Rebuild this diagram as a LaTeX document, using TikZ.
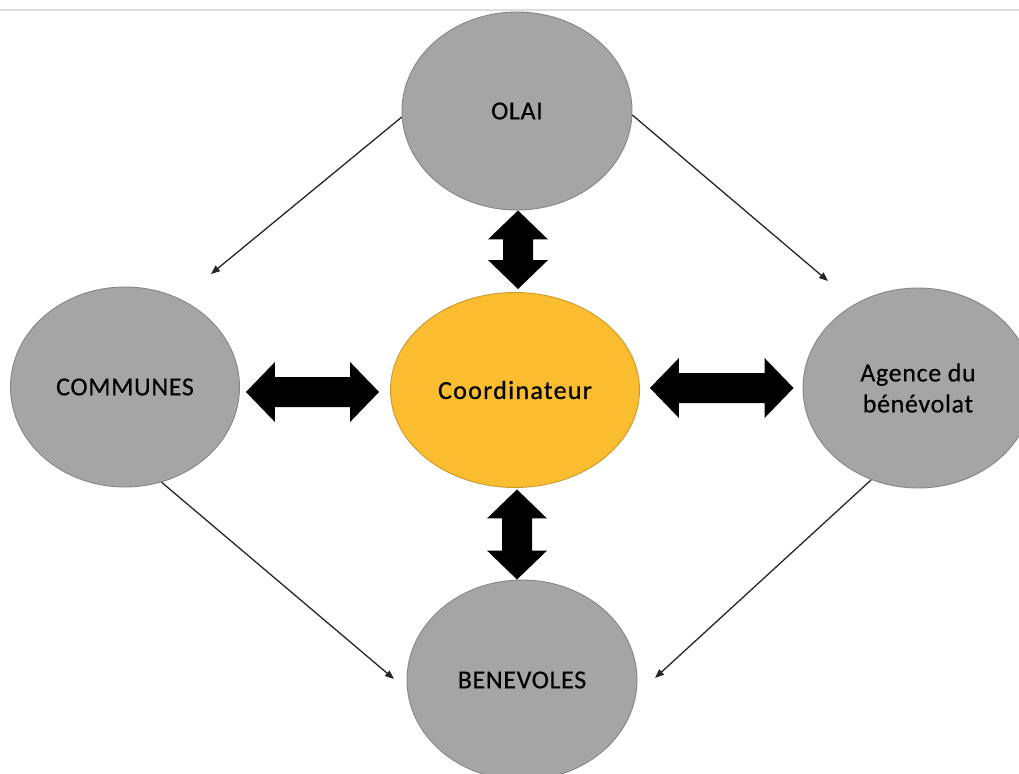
\documentclass[tikz,border=0pt]{standalone}
\usepackage{fontspec}
\setmainfont{Carlito}
\newfontfamily\grayfont[LetterSpace=2.5,FakeBold=0.3]{Carlito}
\newfontfamily\coordfont[LetterSpace=5,FakeBold=0.7]{Carlito}
\usetikzlibrary{calc,arrows.meta,shapes.geometric}
\definecolor{nodegray}{HTML}{A5A5A5}
\definecolor{nodeedge}{HTML}{858585}
\definecolor{coordfill}{HTML}{FBBD30}
\definecolor{coordedge}{HTML}{C9992E}
\definecolor{topline}{HTML}{DDDDDD}
\tikzset{
  bubble/.style={ellipse, draw=nodeedge, fill=nodegray, line width=0.9pt, inner sep=0pt,
    align=center, font=\grayfont\fontsize{26}{31}\selectfont},
  coordbubble/.style={bubble, draw=coordedge, fill=coordfill,
    font=\coordfont\fontsize{26}{31}\selectfont},
  thinarrow/.style={draw=black!85, line width=1.3pt, -{Triangle[length=9pt,width=7pt]}},
  fatarrow/.style={fill=black},
}
\newcommand{\blockarrow}[2]{%
  \coordinate (h1) at ($(#1)!29pt!(#2)$);
  \coordinate (h2) at ($(#2)!29pt!(#1)$);
  \fill[fatarrow] (#1) -- ($(h1)!30pt!90:(#2)$) -- ($(h1)!15pt!90:(#2)$)
    -- ($(h2)!15pt!-90:(#1)$) -- ($(h2)!30pt!-90:(#1)$) -- (#2)
    -- ($(h2)!30pt!90:(#1)$) -- ($(h2)!15pt!90:(#1)$)
    -- ($(h1)!15pt!-90:(#2)$) -- ($(h1)!30pt!-90:(#2)$) -- cycle;}
\begin{document}
\begin{tikzpicture}[x=1pt,y=-1pt]
\useasboundingbox (0,0) rectangle (1019,773);
\clip (0,0) rectangle (1019,773);
\fill[white] (0,0) rectangle (1019,773);
\draw[topline, line width=2pt] (0,10) -- (1019,10);

\node[bubble, minimum width=230pt, minimum height=198pt] (olai) at (517,111) {OLAI};
\node[coordbubble, minimum width=249pt, minimum height=195pt] (coord) at (515,390) {Coordinateur};
\node[bubble, minimum width=229pt, minimum height=200pt] (communes) at (125,387) {COMMUNES};
\node[bubble, minimum width=230pt, minimum height=200pt] (agence) at (918,388) {Agence du\\bénévolat};
\node[bubble, minimum width=230pt, minimum height=200pt] (benev) at (522,680) {BENEVOLES};

% block double arrows
\coordinate (ta) at ($(olai.south)+(1,0)$);
\coordinate (tb) at ($(coord.north)+(3,-3)$);
\blockarrow{ta}{tb}
\coordinate (la) at ($(communes.east)+(6,5)$);
\coordinate (lb) at ($(coord.west)+(-11,2)$);
\blockarrow{la}{lb}
\coordinate (ra) at ($(coord.east)+(10,-2)$);
\coordinate (rb) at ($(agence.west)+(-9,0)$);
\blockarrow{ra}{rb}
\coordinate (ba) at ($(coord.south)+(2,1.5)$);
\coordinate (bb) at ($(benev.north)+(-5,0)$);
\blockarrow{ba}{bb}

% thin arrows
\coordinate (e1) at (211,274);
\coordinate (e2) at (828,281);
\coordinate (e3) at (394,679);
\coordinate (e4) at (655,678);
\draw[thinarrow] (olai.183) -- (e1);
\draw[thinarrow] (olai.-2) -- (e2);
\draw[thinarrow] (communes.-69) -- (e3);
\draw[thinarrow] (agence.243) -- (e4);
\end{tikzpicture}
\end{document}
